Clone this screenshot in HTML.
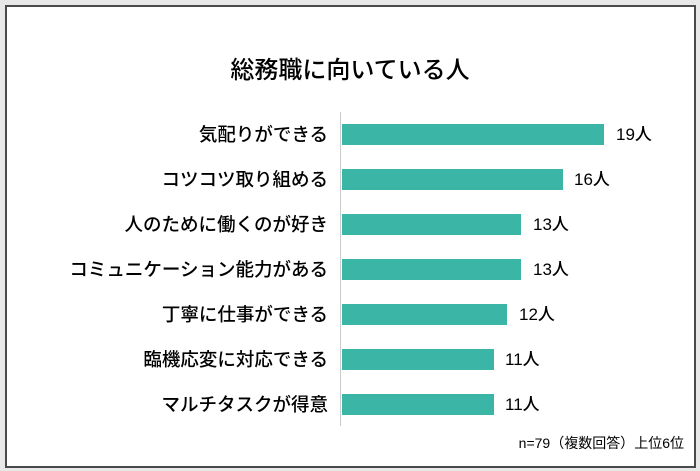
<!DOCTYPE html>
<html><head><meta charset="utf-8"><style>
html,body{margin:0;padding:0;}
body{width:700px;height:471px;background:#e8e8e8;position:relative;overflow:hidden;font-family:"Liberation Sans","Noto Sans CJK JP",sans-serif;color:#000;}
.frame{position:absolute;left:5px;top:5px;width:687px;height:459px;border:2px solid #4a4a4a;background:#fff;}
.t{position:absolute;white-space:nowrap;}
.bar{position:absolute;left:342px;height:21px;background:#3bb5a6;}
.lab{position:absolute;right:372px;font-size:18.5px;line-height:21px;white-space:nowrap;font-weight:500;}
.val{position:absolute;font-size:17px;line-height:21px;font-weight:500;}
</style></head><body>
<div class="frame"></div>
<div class="t" style="left:0;width:700px;text-align:center;top:50px;font-size:24px;font-weight:500;">総務職に向いている人</div>
<div style="position:absolute;left:340px;top:112px;width:1px;height:314px;background:#ccc;"></div>

<div class="lab" style="top:124px">気配りができる</div><div class="bar" style="top:124px;width:262px"></div><div class="val" style="top:124px;left:616px">19人</div>
<div class="lab" style="top:169px">コツコツ取り組める</div><div class="bar" style="top:169px;width:221px"></div><div class="val" style="top:169px;left:574px">16人</div>
<div class="lab" style="top:214px">人のために働くのが好き</div><div class="bar" style="top:214px;width:179px"></div><div class="val" style="top:214px;left:533px">13人</div>
<div class="lab" style="top:259px">コミュニケーション能力がある</div><div class="bar" style="top:259px;width:179px"></div><div class="val" style="top:259px;left:533px">13人</div>
<div class="lab" style="top:304px">丁寧に仕事ができる</div><div class="bar" style="top:304px;width:165px"></div><div class="val" style="top:304px;left:519px">12人</div>
<div class="lab" style="top:349px">臨機応変に対応できる</div><div class="bar" style="top:349px;width:152px"></div><div class="val" style="top:349px;left:505px">11人</div>
<div class="lab" style="top:394px">マルチタスクが得意</div><div class="bar" style="top:394px;width:152px"></div><div class="val" style="top:394px;left:505px">11人</div>

<div class="t" style="right:16px;top:433px;font-size:14px;">n=79（複数回答）上位6位</div>
</body></html>
